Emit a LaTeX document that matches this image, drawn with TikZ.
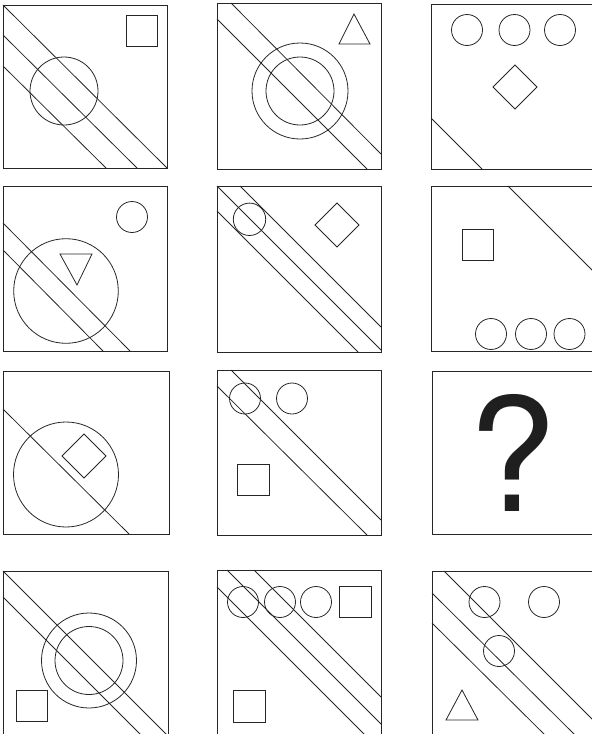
\documentclass[tikz,border=0pt]{standalone}
\usepackage{fontspec}
\newfontfamily\heros{TeX Gyre Heros}
\usepackage{tikz}
\tikzset{
    panel/.style={draw=black!85,line width=0.9pt},
    fig/.style={draw=black!85,line width=0.8pt},
    band/.style={draw=black!85,line width=0.8pt},
    qmark/.style={inner sep=0pt,anchor=base,text=black!88,font=\heros\fontsize{158}{158}\selectfont}
}
% diamond given by centre and half diagonal
\newcommand{\rhomb}[3]{\draw[fig] (#1-#3,#2) -- (#1,#2-#3) -- (#1+#3,#2) -- (#1,#2+#3) -- cycle;}

\begin{document}
\begin{tikzpicture}[x=1pt,y=-1pt]
    \useasboundingbox (0,0) rectangle (592,734);
    \clip (0,0) rectangle (592,734);

    % row 1
    \draw[panel] (3,5) rectangle (167,168);
    \draw[band] (3,5) -- (167,168);
    \draw[band] (3,35) -- (137,168);
    \draw[band] (3,66) -- (106,168);
    \draw[fig] (64,91) circle (34);
    \draw[fig] (126,15) rectangle (157,46);

    \draw[panel] (217,3) rectangle (381,169);
    \draw[band] (231,3) -- (381,154);
    \draw[band] (217,19) -- (367,169);
    \draw[fig] (300,91) circle (48);
    \draw[fig] (300,91) circle (34);
    \draw[fig] (354,14) -- (339,44) -- (370,44) -- cycle;

    \draw[panel] (431,4) rectangle (597,169);
    \foreach \cx in {467,514.5,560}
        \draw[fig] (\cx,30) circle (15.5);
    \rhomb{515}{87}{22}
    \draw[band] (431,118) -- (482,169);

    % row 2
    \draw[panel] (3,186) rectangle (167,351);
    \draw[fig] (132,217) circle (15.5);
    \draw[fig] (66,291) circle (52.3);
    \draw[fig] (60,254) -- (92,254) -- (77,285) -- cycle;
    \draw[band] (3,223) -- (130,351);
    \draw[band] (3,250) -- (103,351);

    \draw[panel] (217,186) rectangle (381,352);
    \draw[fig] (249.5,219.3) circle (16.2);
    \rhomb{337}{225}{22}
    \draw[band] (240,186) -- (381,327);
    \draw[band] (217,186) -- (381,350);
    \draw[band] (217,211) -- (358,352);

    \draw[panel] (431,186) rectangle (597,351);
    \draw[fig] (462,229) rectangle (493,260);
    \draw[band] (508,186) -- (597,275);
    \foreach \cx in {491,531,569.5}
        \draw[fig] (\cx,334) circle (15.5);

    % row 3
    \draw[panel] (3,371) rectangle (169,534);
    \draw[band] (3,409) -- (129,534);
    \draw[fig] (66,474.5) circle (52.5);
    \rhomb{84}{456}{22}

    \draw[panel] (217,370) rectangle (381,535);
    \foreach \cx in {245,292}
        \draw[fig] (\cx,398.5) circle (15.5);
    \draw[fig] (237,464) rectangle (269,495);
    \draw[band] (231,370) -- (381,520);
    \draw[band] (217,386) -- (367,535);

    \draw[panel] (432,371) rectangle (597,534);
    \node[qmark] (ask) at (512,511) {?};

    % row 4
    \draw[panel] (3,571) rectangle (168,740);
    \draw[fig] (16,690) rectangle (47,721);
    \draw[fig] (89,660.5) circle (47.5);
    \draw[fig] (89,660.5) circle (34);
    \draw[band] (3,571) -- (168,736);
    \draw[band] (3,597) -- (143,737);

    \draw[panel] (217,570) rectangle (381,740);
    \foreach \cx in {243,280,316}
        \draw[fig] (\cx,602) circle (15.5);
    \draw[fig] (339,586) rectangle (371,617);
    \draw[fig] (233,690) rectangle (265,722);
    \draw[band] (254,570) -- (381,697);
    \draw[band] (227,570) -- (381,724);
    \draw[band] (217,587) -- (367,737);

    \draw[panel] (432,571) rectangle (597,740);
    \draw[fig] (484.5,602) circle (15.5);
    \draw[fig] (544,602) circle (15.5);
    \draw[fig] (499,651) circle (15.5);
    \draw[fig] (462,690) -- (446,720) -- (478,720) -- cycle;
    \draw[band] (444,571) -- (597,724);
    \draw[band] (432,593) -- (577,737);
    \draw[band] (432,623) -- (547,737);
\end{tikzpicture}
\end{document}
